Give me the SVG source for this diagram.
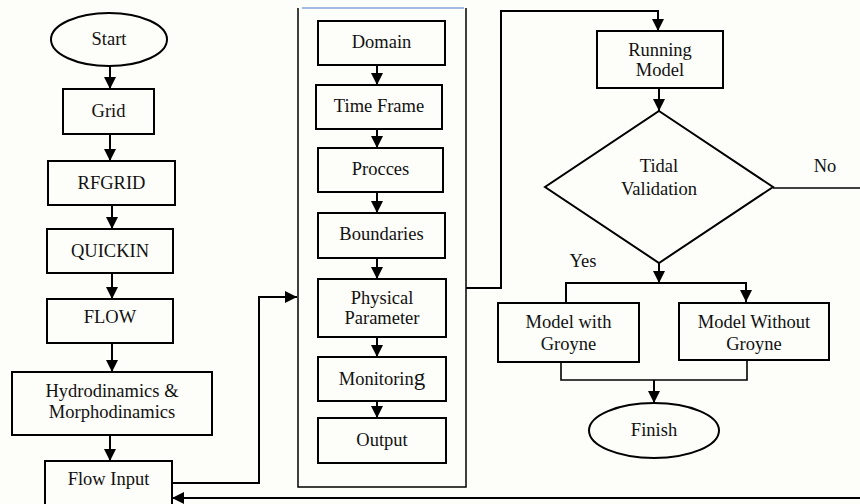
<svg xmlns="http://www.w3.org/2000/svg" width="860" height="504" viewBox="0 0 860 504">
<defs>
<marker id="ah" markerUnits="userSpaceOnUse" markerWidth="12" markerHeight="12" refX="12" refY="6" orient="auto">
<path d="M0,0 L12,6 L0,12 z" fill="#000"/>
</marker>
<style>
.box{fill:none;stroke:#000;stroke-width:2}
.t{font-size:18.5px;fill:#111;text-anchor:middle}
.c{fill:none;stroke:#000;stroke-width:1.6}
.a{fill:none;stroke:#000;stroke-width:2;marker-end:url(#ah)}
</style>
</defs>
<rect width="860" height="504" fill="#fdfdf9"/>
<g font-family="'Liberation Serif', 'DejaVu Serif', 'Times New Roman', serif">
<g id="start"><ellipse class="box" cx="109" cy="39.5" rx="58" ry="26.5"/><text class="t" x="109" y="45">Start</text></g>
<g id="grid"><rect class="box" x="63" y="89" width="91" height="45"/><text class="t" x="108.5" y="117">Grid</text></g>
<g id="rfgrid"><rect class="box" x="48" y="161" width="127" height="44"/><text class="t" x="111.5" y="189">RFGRID</text></g>
<g id="quickin"><rect class="box" x="47" y="229" width="126" height="44"/><text class="t" x="110" y="257">QUICKIN</text></g>
<g id="flow"><rect class="box" x="47" y="299" width="126" height="44"/><text class="t" x="110" y="323">FLOW</text></g>
<g id="hydro"><rect class="box" x="12" y="372" width="200" height="63"/><text class="t" x="112" y="397">Hydrodinamics &amp;</text><text class="t" x="112" y="418">Morphodinamics</text></g>
<g id="flowinput"><rect class="box" x="45" y="461" width="127" height="60"/><text class="t" x="108.5" y="485">Flow Input</text></g>

<g id="panel"><path d="M298,8 V487 H466 V8" fill="none" stroke="#000" stroke-width="1.5"/><line x1="302" y1="8" x2="464" y2="8" stroke="#4a78c8" stroke-width="1.2"/></g>
<g id="domain"><rect class="box" x="318" y="21" width="127" height="44"/><text class="t" x="381.5" y="48">Domain</text></g>
<g id="timeframe"><rect class="box" x="316" y="85" width="126" height="44"/><text class="t" x="379" y="112">Time Frame</text></g>
<g id="procces"><rect class="box" x="318" y="148" width="125" height="44"/><text class="t" x="380.5" y="175">Procces</text></g>
<g id="boundaries"><rect class="box" x="318" y="213" width="127" height="45"/><text class="t" x="381.5" y="240">Boundaries</text></g>
<g id="physical"><rect class="box" x="318" y="279" width="128" height="58"/><text class="t" x="382" y="304">Physical</text><text class="t" x="382" y="324">Parameter</text></g>
<g id="monitoring"><rect class="box" x="318" y="357" width="128" height="44"/><text class="t" x="382" y="385">Monitorin<tspan font-size="23">g</tspan></text></g>
<g id="output"><rect class="box" x="318" y="418" width="128" height="45"/><text class="t" x="382" y="446">Output</text></g>

<g id="running"><rect class="box" x="597" y="31" width="126" height="57"/><text class="t" x="660" y="56">Running</text><text class="t" x="660" y="76">Model</text></g>
<g id="tidal"><polygon class="box" points="659,111 773,187 659,263 545,187"/><text class="t" x="659" y="172">Tidal</text><text class="t" x="659" y="195">Validation</text></g>
<g id="withgroyne"><rect class="box" x="498" y="303" width="141" height="59"/><text class="t" x="568.5" y="328">Model with</text><text class="t" x="568.5" y="350">Groyne</text></g>
<g id="withoutgroyne"><rect class="box" x="679" y="303" width="150" height="57"/><text class="t" x="754" y="328">Model Without</text><text class="t" x="754" y="350">Groyne</text></g>
<g id="finish"><ellipse class="box" cx="654" cy="430.5" rx="65" ry="27.5"/><text class="t" x="654" y="436">Finish</text></g>

<g id="labels"><text class="t" x="825" y="172">No</text><text class="t" x="583" y="267">Yes</text></g>
</g>
<g id="connectors">
<line class="a" x1="110" y1="66" x2="110" y2="89"/>
<line class="a" x1="110" y1="134" x2="110" y2="161"/>
<line class="a" x1="112" y1="205" x2="112" y2="229"/>
<line class="a" x1="112" y1="273" x2="112" y2="299"/>
<line class="a" x1="112" y1="343" x2="112" y2="372"/>
<line class="a" x1="110" y1="435" x2="110" y2="461"/>
<polyline class="a" points="172,483 259,483 259,297 297,297"/>
<line class="a" x1="377" y1="65" x2="377" y2="85"/>
<line class="a" x1="377" y1="129" x2="377" y2="148"/>
<line class="a" x1="377" y1="192" x2="377" y2="213"/>
<line class="a" x1="377" y1="258" x2="377" y2="279"/>
<line class="a" x1="377" y1="337" x2="377" y2="357"/>
<line class="a" x1="377" y1="401" x2="377" y2="418"/>
<polyline class="a" points="466,288 501,288 501,11 658,11 658,31"/>
<line class="a" x1="659" y1="88" x2="659" y2="111"/>
<line class="c" x1="773" y1="188" x2="860" y2="188"/>
<line class="a" x1="659" y1="263" x2="659" y2="283"/>
<polyline class="a" points="566,302 566,283 746,283 746,302"/>
<polyline class="c" points="561,362 561,380 747,380 747,360"/>
<line class="a" x1="654" y1="380" x2="654" y2="403"/>
<line class="a" x1="860" y1="498" x2="172" y2="498"/>
</g>
</svg>
